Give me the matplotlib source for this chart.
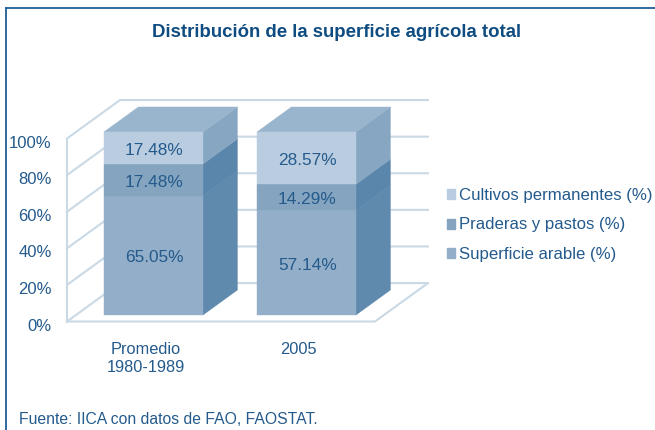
import matplotlib
matplotlib.use('Agg')
import matplotlib.pyplot as plt
from matplotlib.patches import Polygon, Patch
from matplotlib.lines import Line2D
from matplotlib.transforms import ScaledTranslation

categories = ['Promedio\n1980-1989', '2005']
series_names = ['Superficie arable (%)', 'Praderas y pastos (%)', 'Cultivos permanentes (%)']
arable = [65.05, 57.14]
praderas = [17.48, 14.29]
cultivos = [17.48, 28.57]
yticks = [0, 20, 40, 60, 80, 100]

W, H = 655, 430
TEXT = '#245a8c'
GRID = '#c9d9e5'
FRONT = ['#92aec8', '#84a4bf', '#bacde0']
SIDE = ['#5f89ad', '#5a86ab', '#86a6c2']
TOP = '#99b5cd'

plt.rcParams['font.family'] = ['Liberation Sans', 'DejaVu Sans']
fig = plt.figure(figsize=(W / 100, H / 100), dpi=100, facecolor='white')


def fx(px):
    return px / W


def fy(py):
    return 1 - py / H


# axes box is the front edge of the 3d floor/wall
ax = fig.add_axes([fx(67), fy(321.5), fx(375) - fx(67), fy(138.5) - fy(321.5)])
ax.set_xlim(-0.5065, 1.5065)
ax.set_ylim(0, 100)
ax.patch.set_visible(False)
for s in ax.spines.values():
    s.set_visible(False)

DX, DY = 0.346, 21.0   # shift of the full depth, in data units


def pt(x, y, d):
    return (x + d * DX, y + d * DY)


def poly(points, color, z):
    ax.add_patch(Polygon(points, closed=True, facecolor=color, edgecolor=color,
                         lw=0.3, clip_on=False, zorder=z))


# walls and grid
x0, x1 = ax.get_xlim()
for v in yticks:
    a, b, c = pt(x0, v, 0), pt(x0, v, 1), pt(x1, v, 1)
    ax.plot([a[0], b[0], c[0]], [a[1], b[1], c[1]], color=GRID, lw=1.5,
            clip_on=False, zorder=1, solid_joinstyle='miter')
a, b = pt(x0, 0, 0), pt(x0, 100, 0)
ax.plot([a[0], b[0]], [a[1], b[1]], color=GRID, lw=1.5, clip_on=False, zorder=1)
f = [pt(x0, 0, 0), pt(x1, 0, 0), pt(x1, 0, 1)]
ax.plot([p[0] for p in f], [p[1] for p in f], color=GRID, lw=1.5, clip_on=False, zorder=1)

# stacked boxes
HALF = 0.3235
D0, D1 = 0.17, 0.82
for i in range(len(categories)):
    base = 0
    vals = [arable[i], praderas[i], cultivos[i]]
    for j, v in enumerate(vals):
        top = base + v
        l, r = i - HALF, i + HALF
        poly([pt(r, base, D0), pt(r, base, D1), pt(r, top, D1), pt(r, top, D0)], SIDE[j], 3)
        poly([pt(l, base, D0), pt(r, base, D0), pt(r, top, D0), pt(l, top, D0)], FRONT[j], 4)
        cx, cy = pt(i, base + v / 2, D0)
        ax.annotate('%.2f%%' % v, (cx, cy), xytext=(0.7, -1.8), textcoords='offset points',
                    ha='center', va='center', fontsize=12.4, color=TEXT, zorder=5)
        base = top
    poly([pt(i - HALF, base, D0), pt(i + HALF, base, D0),
          pt(i + HALF, base, D1), pt(i - HALF, base, D1)], TOP, 3)

ax.set_xticks(range(len(categories)))
ax.set_xticklabels(categories, fontsize=11.8, color=TEXT, linespacing=1.3)
ax.set_yticks(yticks)
ax.set_yticklabels(['%d%%' % v for v in yticks], fontsize=12, color=TEXT)
ax.tick_params(axis='both', length=0)
ax.tick_params(axis='x', pad=14.6)
ax.tick_params(axis='y', pad=11)
# reference labels sit a little below their wall lines
for lab in ax.get_yticklabels():
    lab.set_transform(lab.get_transform() + ScaledTranslation(0, -2.2 / 72, fig.dpi_scale_trans))
for lab in ax.get_xticklabels():
    lab.set_transform(lab.get_transform() + ScaledTranslation(0.7 / 72, 0, fig.dpi_scale_trans))

handles = [Patch(facecolor=FRONT[k], edgecolor=FRONT[k]) for k in (2, 1, 0)]
labels = [series_names[k] for k in (2, 1, 0)]
fig.legend(handles, labels, loc='center left', bbox_to_anchor=(fx(431.5), fy(225)),
           frameon=False, fontsize=12.05, labelcolor=TEXT, handlelength=0.5,
           handleheight=0.55, handletextpad=0.25, labelspacing=0.88)

fig.text(fx(336.5), fy(32.5), 'Distribución de la superficie agrícola total', ha='center',
         va='center', fontsize=13.45, fontweight='bold', color='#0f4c81')
fig.text(fx(19), fy(419), 'Fuente: IICA con datos de FAO, FAOSTAT.', ha='left',
         va='center', fontsize=11.35, color=TEXT)

# frame round the figure
fig.add_artist(Line2D([fx(6), fx(6)], [fy(8), fy(430)], color='#1f5f96', lw=1.3))
fig.add_artist(Line2D([fx(5.5), fx(655)], [fy(8), fy(8)], color='#1f5f96', lw=1.3))

fig.savefig('out.png', dpi=100)
